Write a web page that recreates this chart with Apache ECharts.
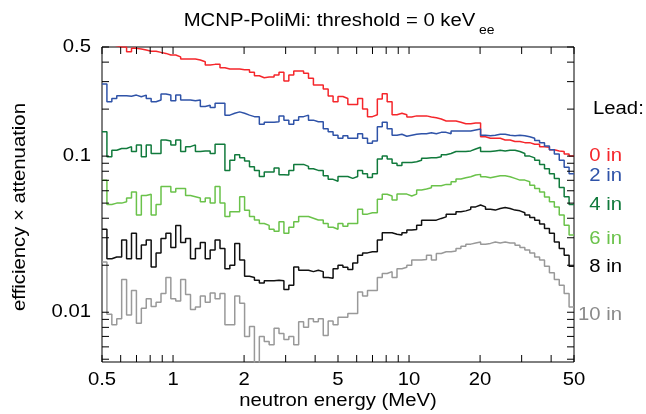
<!DOCTYPE html>
<html><head><meta charset="utf-8">
<script src="https://cdn.jsdelivr.net/npm/echarts@6/dist/echarts.min.js"></script>
<style>html,body{margin:0;padding:0;background:#fff}#c{width:646px;height:414px}</style>
</head><body><div id="c"></div>
<script>
// ---- data (efficiency x attenuation per log-uniform energy bin, 0.5 - 50 MeV) ----
const binCount = 96;
const xMin = 0.5, xMax = 50, yMin = 0.0048, yMax = 0.5;

const lead0 = [0.53,0.52,0.51,0.50,0.50,0.467,0.49,0.485,0.478,0.47,0.47,0.462,0.455,0.444,0.444,0.432,0.419,0.419,0.419,0.413,
0.402,0.383,0.387,0.387,0.368,0.361,0.361,0.361,0.358,0.358,0.344,0.327,0.318,0.321,0.321,0.331,0.344,0.303,0.331,0.351,
0.351,0.339,0.315,0.285,0.285,0.269,0.243,0.223,0.241,0.234,0.214,0.214,0.234,0.200,0.179,0.184,0.232,0.251,0.223,0.184,
0.188,0.184,0.178,0.181,0.181,0.181,0.178,0.176,0.173,0.168,0.168,0.168,0.165,0.161,0.161,0.163,0.163,0.133,0.130,0.130,
0.130,0.127,0.127,0.124,0.124,0.122,0.122,0.119,0.119,0.115,0.114,0.110,0.108,0.107,0.103,0.100];

const lead2 = [0.29,0.223,0.234,0.244,0.244,0.242,0.246,0.24,0.246,0.234,0.223,0.229,0.25,0.246,0.226,0.246,0.229,0.229,0.226,0.229,
0.208,0.212,0.205,0.218,0.218,0.183,0.188,0.192,0.188,0.183,0.179,0.179,0.16,0.165,0.165,0.166,0.181,0.17,0.16,0.17,
0.179,0.183,0.17,0.166,0.166,0.15,0.143,0.136,0.130,0.135,0.130,0.130,0.139,0.130,0.121,0.125,0.154,0.165,0.15,0.136,
0.138,0.134,0.136,0.138,0.139,0.139,0.141,0.139,0.142,0.142,0.139,0.145,0.145,0.145,0.145,0.147,0.149,0.136,0.135,0.136,
0.138,0.138,0.136,0.135,0.136,0.135,0.133,0.130,0.126,0.122,0.116,0.110,0.103,0.094,0.085,0.077];

const lead4 = [0.143,0.099,0.109,0.112,0.112,0.115,0.107,0.118,0.099,0.118,0.104,0.104,0.127,0.125,0.118,0.127,0.107,0.115,0.118,0.107,
0.108,0.108,0.104,0.119,0.119,0.081,0.094,0.102,0.0975,0.093,0.0855,0.081,0.074,0.079,0.079,0.084,0.076,0.0756,0.081,0.0885,
0.0885,0.086,0.083,0.081,0.081,0.075,0.071,0.069,0.074,0.074,0.072,0.074,0.081,0.077,0.073,0.077,0.096,0.100,0.096,0.090,
0.087,0.091,0.091,0.092,0.094,0.097,0.0975,0.0975,0.099,0.102,0.104,0.107,0.107,0.107,0.108,0.111,0.114,0.107,0.107,0.108,
0.109,0.108,0.109,0.109,0.107,0.104,0.100,0.0975,0.094,0.0885,0.083,0.077,0.072,0.063,0.055,0.049];

const lead6 = [0.070,0.049,0.050,0.050,0.051,0.054,0.059,0.042,0.056,0.057,0.042,0.049,0.064,0.064,0.059,0.062,0.062,0.056,0.055,0.054,
0.051,0.054,0.050,0.064,0.050,0.041,0.044,0.044,0.055,0.045,0.041,0.039,0.037,0.036,0.034,0.033,0.038,0.032,0.035,0.038,
0.041,0.041,0.040,0.039,0.039,0.037,0.035,0.034,0.037,0.0356,0.037,0.037,0.0456,0.0425,0.0434,0.0434,0.053,0.057,0.0555,0.0523,
0.0571,0.0571,0.0555,0.0571,0.0606,0.0615,0.0627,0.0646,0.0646,0.0659,0.0659,0.0685,0.0713,0.0726,0.0738,0.0756,0.0764,0.0738,0.0726,0.0738,
0.0748,0.0748,0.0738,0.072,0.0702,0.0702,0.0685,0.065,0.0621,0.059,0.0548,0.051,0.0473,0.042,0.0361,0.0312];

const lead8 = [0.034,0.022,0.0226,0.0226,0.029,0.022,0.032,0.022,0.027,0.029,0.0195,0.024,0.0297,0.032,0.026,0.036,0.028,0.0297,0.022,0.0256,
0.028,0.022,0.025,0.029,0.0256,0.019,0.020,0.0276,0.0216,0.017,0.0167,0.016,0.0154,0.0159,0.0159,0.016,0.0159,0.014,0.0149,0.0195,
0.0186,0.0186,0.0182,0.0186,0.0182,0.0167,0.0165,0.019,0.020,0.0194,0.0188,0.0207,0.0232,0.024,0.0244,0.0244,0.029,0.0323,0.0323,0.0316,
0.0312,0.0323,0.0336,0.0339,0.0361,0.0389,0.0389,0.0389,0.0399,0.0408,0.0425,0.0425,0.044,0.0446,0.0456,0.0473,0.0486,0.0473,0.0456,0.0451,
0.0462,0.0469,0.0462,0.0451,0.0446,0.0434,0.0419,0.0405,0.0389,0.0367,0.0344,0.032,0.0282,0.0256,0.0232,0.0197];

const lead10 = [0.021,0.0097,0.0083,0.0091,0.0162,0.0096,0.0138,0.0085,0.0106,0.0122,0.0109,0.0116,0.0132,0.0167,0.0122,0.0118,0.0162,0.013,0.0104,0.0108,
0.0127,0.0116,0.0133,0.0122,0.0132,0.0083,0.0083,0.0127,0.0114,0.007,0.0081,0.0040,0.007,0.0065,0.0062,0.0079,0.0073,0.0067,0.007,0.0062,
0.0087,0.008,0.0091,0.0087,0.0091,0.0071,0.0088,0.0083,0.0093,0.0093,0.0098,0.0098,0.0135,0.0127,0.0138,0.0138,0.0167,0.0177,0.0182,0.0167,
0.019,0.0194,0.020,0.0216,0.0216,0.0218,0.0232,0.0216,0.0238,0.0244,0.0244,0.0247,0.0256,0.0265,0.0273,0.0278,0.0282,0.0273,0.0276,0.0282,
0.0278,0.0282,0.0278,0.0278,0.0269,0.026,0.025,0.024,0.0226,0.0216,0.0197,0.0179,0.0162,0.0149,0.0132,0.0108];

const seriesNames  = ['0 in','2 in','4 in','6 in','8 in','10 in'];
const seriesColors = ['#f5262b','#2f53a8','#117a3c','#6ac24a','#111111','#999999'];
const labelColors  = ['#f5262b','#2f53a8','#117a3c','#6ac24a','#000000','#8a8a8a'];
const labelY       = [156.5,176,205,239,267,315];

const xTickLabels = [0.5,1,2,5,10,20,50];
const xMinorTicks = [0.6,0.7,0.8,0.9,3,4,6,7,8,9,30,40];
const yTickLabels = [0.01,0.1,0.5];
const yMinorTicks = [0.005,0.006,0.007,0.008,0.009,0.02,0.03,0.04,0.05,0.06,0.07,0.08,0.09,0.2,0.3,0.4];

// ---- build ----
const FONT = "'Liberation Sans', Arial, Helvetica, sans-serif";
const FS = 17.5, SX = 1.16, TICK = 7;
const edges = [];
for (let i = 0; i <= binCount; i++) edges.push(xMin * Math.pow(xMax / xMin, i / binCount));
function histData(vals){
  const d = vals.map((v,i)=>[edges[i], v]);
  d.push([edges[vals.length], vals[vals.length-1]]);
  return d;
}
const allVals = [lead0, lead2, lead4, lead6, lead8, lead10];

function xTickRender(withLabel){
  return function(params, api){
    const v = api.value(0);
    const b = api.coord([v, yMin]), t = api.coord([v, yMax]);
    const ls = {stroke:'#000', lineWidth:1};
    const ch = [
      {type:'line', shape:{x1:b[0],y1:b[1],x2:b[0],y2:b[1]-TICK}, style:ls},
      {type:'line', shape:{x1:t[0],y1:t[1],x2:t[0],y2:t[1]+TICK}, style:ls}
    ];
    if (withLabel) ch.push({type:'text', x:b[0], y:b[1]+18.5, scaleX:SX,
      style:{text:String(v), fill:'#000', font: FS+'px '+FONT, align:'center', verticalAlign:'middle'}});
    return {type:'group', children:ch};
  };
}
function yTickRender(withLabel){
  return function(params, api){
    const v = api.value(1);
    const l = api.coord([xMin, v]), r = api.coord([xMax, v]);
    const ls = {stroke:'#000', lineWidth:1};
    const ch = [
      {type:'line', shape:{x1:l[0],y1:l[1],x2:l[0]+TICK,y2:l[1]}, style:ls},
      {type:'line', shape:{x1:r[0],y1:r[1],x2:r[0]-TICK,y2:r[1]}, style:ls}
    ];
    if (withLabel) ch.push({type:'text', x:l[0]-11, y:l[1], scaleX:SX,
      style:{text:String(v), fill:'#000', font: FS+'px '+FONT, align:'right', verticalAlign:'middle'}});
    return {type:'group', children:ch};
  };
}

const series = allVals.map((vals, k)=>({
  name: seriesNames[k], type:'line', step:'end', data: histData(vals),
  showSymbol:false, symbol:'none', clip:true, animation:false,
  lineStyle:{color:seriesColors[k], width:1.5}, z: 2
}));
series.push({type:'custom', renderItem:xTickRender(true), data:xTickLabels.map(v=>[v,yMin]), encode:{x:0,y:1}, clip:false, silent:true, z:5, animation:false});
series.push({type:'custom', renderItem:xTickRender(false), data:xMinorTicks.map(v=>[v,yMin]), encode:{x:0,y:1}, clip:false, silent:true, z:5, animation:false});
series.push({type:'custom', renderItem:yTickRender(true), data:yTickLabels.map(v=>[xMin,v]), encode:{x:0,y:1}, clip:false, silent:true, z:5, animation:false});
series.push({type:'custom', renderItem:yTickRender(false), data:yMinorTicks.map(v=>[xMin,v]), encode:{x:0,y:1}, clip:false, silent:true, z:5, animation:false});

const graphics = [
  {type:'text', x:329.5, y:21, scaleX:SX, style:{text:'MCNP-PoliMi: threshold = 0 keV', fill:'#000', font:FS+'px '+FONT, align:'center', verticalAlign:'middle'}},
  {type:'text', x:479, y:31, scaleX:SX, style:{text:'ee', fill:'#000', font:'12px '+FONT, align:'left', verticalAlign:'middle'}},
  {type:'text', x:338, y:401, scaleX:SX, style:{text:'neutron energy (MeV)', fill:'#000', font:FS+'px '+FONT, align:'center', verticalAlign:'middle'}},
  {type:'text', x:20, y:207, rotation:Math.PI/2, scaleX:SX, style:{text:'efficiency \u00d7 attenuation', fill:'#000', font:FS+'px '+FONT, align:'center', verticalAlign:'middle'}},
  {type:'text', x:593, y:109, scaleX:SX, style:{text:'Lead:', fill:'#000', font:FS+'px '+FONT, align:'left', verticalAlign:'middle'}}
];
seriesNames.forEach((n,k)=>{
  graphics.push({type:'text', x:622, y:labelY[k], scaleX:SX, style:{text:n, fill:labelColors[k], font:FS+'px '+FONT, align:'right', verticalAlign:'middle'}});
});

const chart = echarts.init(document.getElementById('c'), null, {renderer:'canvas'});
chart.setOption({
  animation:false,
  backgroundColor:'#fff',
  grid:{left:102, right:72, top:47, bottom:52, show:true, borderColor:'#000', borderWidth:1, backgroundColor:'transparent'},
  xAxis:{type:'log', logBase:10, min:xMin, max:xMax, axisLine:{show:false}, axisTick:{show:false}, axisLabel:{show:false}, splitLine:{show:false}},
  yAxis:{type:'log', logBase:10, min:yMin, max:yMax, axisLine:{show:false}, axisTick:{show:false}, axisLabel:{show:false}, splitLine:{show:false}},
  series: series,
  graphic: graphics
});
</script></body></html>
